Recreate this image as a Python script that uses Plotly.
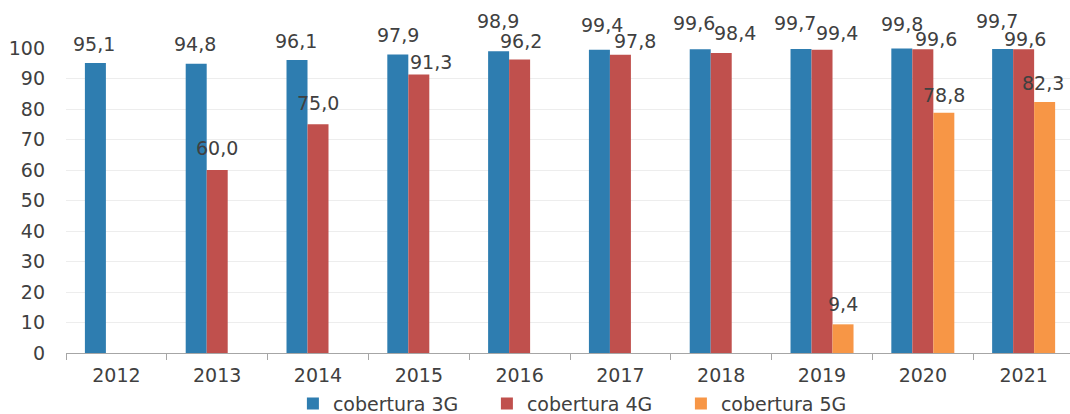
import plotly.graph_objects as go

years = ["2012", "2013", "2014", "2015", "2016", "2017", "2018", "2019", "2020", "2021"]
cob_3g = [95.1, 94.8, 96.1, 97.9, 98.9, 99.4, 99.6, 99.7, 99.8, 99.7]
cob_4g = [None, 60.0, 75.0, 91.3, 96.2, 97.8, 98.4, 99.4, 99.6, 99.6]
cob_5g = [None, None, None, None, None, None, None, 9.4, 78.8, 82.3]

series_names = ["cobertura 3G", "cobertura 4G", "cobertura 5G"]
series_vals = [cob_3g, cob_4g, cob_5g]
colors = ["#2E7DB0", "#C0504D", "#F79646"]

# label placement styling (pixel offsets: series group offset, per-label dx, dy up)
group_shift = [-21, 0, 21]
label_dx = [
    [-1, -1, -1, 0, -1, 3, -6, -6, 0, -6],
    [0, 0, 0, 12, 1, 15, 14, 15, 13, 1],
    [0, 0, 0, 0, 0, 0, 0, 0, 0, -2],
]
label_dy = [
    [19, 20, 19, 19, 30, 25, 26, 26, 25, 28],
    [20, 22, 21, 13, 19, 14, 20, 17, 10, 10],
    [20, 20, 20, 20, 20, 20, 20, 20, 18, 19],
]

FONT = "DejaVu Sans, Liberation Sans, Arial, sans-serif"
TXT = "#404040"
FS = 19

fig = go.Figure()
for name, vals, col in zip(series_names, series_vals, colors):
    fig.add_trace(go.Bar(x=years, y=vals, name=name, marker=dict(color=col, line=dict(width=0))))

annotations = []
for s, vals in enumerate(series_vals):
    for i, v in enumerate(vals):
        if v is None:
            continue
        annotations.append(dict(
            x=i, y=v, xref="x", yref="y",
            text=f"{v:.1f}".replace(".", ","),
            showarrow=False,
            xshift=group_shift[s] + label_dx[s][i],
            yshift=label_dy[s][i],
            font=dict(family=FONT, size=FS, color=TXT),
            xanchor="center", yanchor="middle",
        ))

fig.update_layout(
    width=1070, height=414,
    margin=dict(l=66, r=0, t=48, b=61, autoexpand=False),
    paper_bgcolor="white", plot_bgcolor="white",
    barmode="group", bargap=0.375, bargroupgap=0,
    font=dict(family=FONT, size=FS, color=TXT),
    annotations=annotations,
    showlegend=True,
    legend=dict(
        orientation="h", x=0.226, xanchor="left", y=-0.166, yanchor="middle",
        font=dict(family=FONT, size=FS, color=TXT),
        entrywidth=149, entrywidthmode="pixels",
        itemwidth=30, bgcolor="rgba(0,0,0,0)",
    ),
    xaxis=dict(
        type="category", range=[-0.5, 9.46], automargin=False,
        showline=True, linecolor="#A6A6A6", linewidth=1,
        ticks="outside", tickson="boundaries", ticklen=6, tickcolor="#A6A6A6",
        showgrid=False, tickfont=dict(family=FONT, size=FS, color=TXT),
        ticklabelstandoff=5,
    ),
    yaxis=dict(
        range=[0, 100], dtick=10, showgrid=True, gridcolor="#EDEDED", gridwidth=1,
        zeroline=False, showline=False, ticks="", automargin=False,
        tickfont=dict(family=FONT, size=FS, color=TXT),
        ticklabelstandoff=20,
    ),
)

fig.write_html("out.html")
